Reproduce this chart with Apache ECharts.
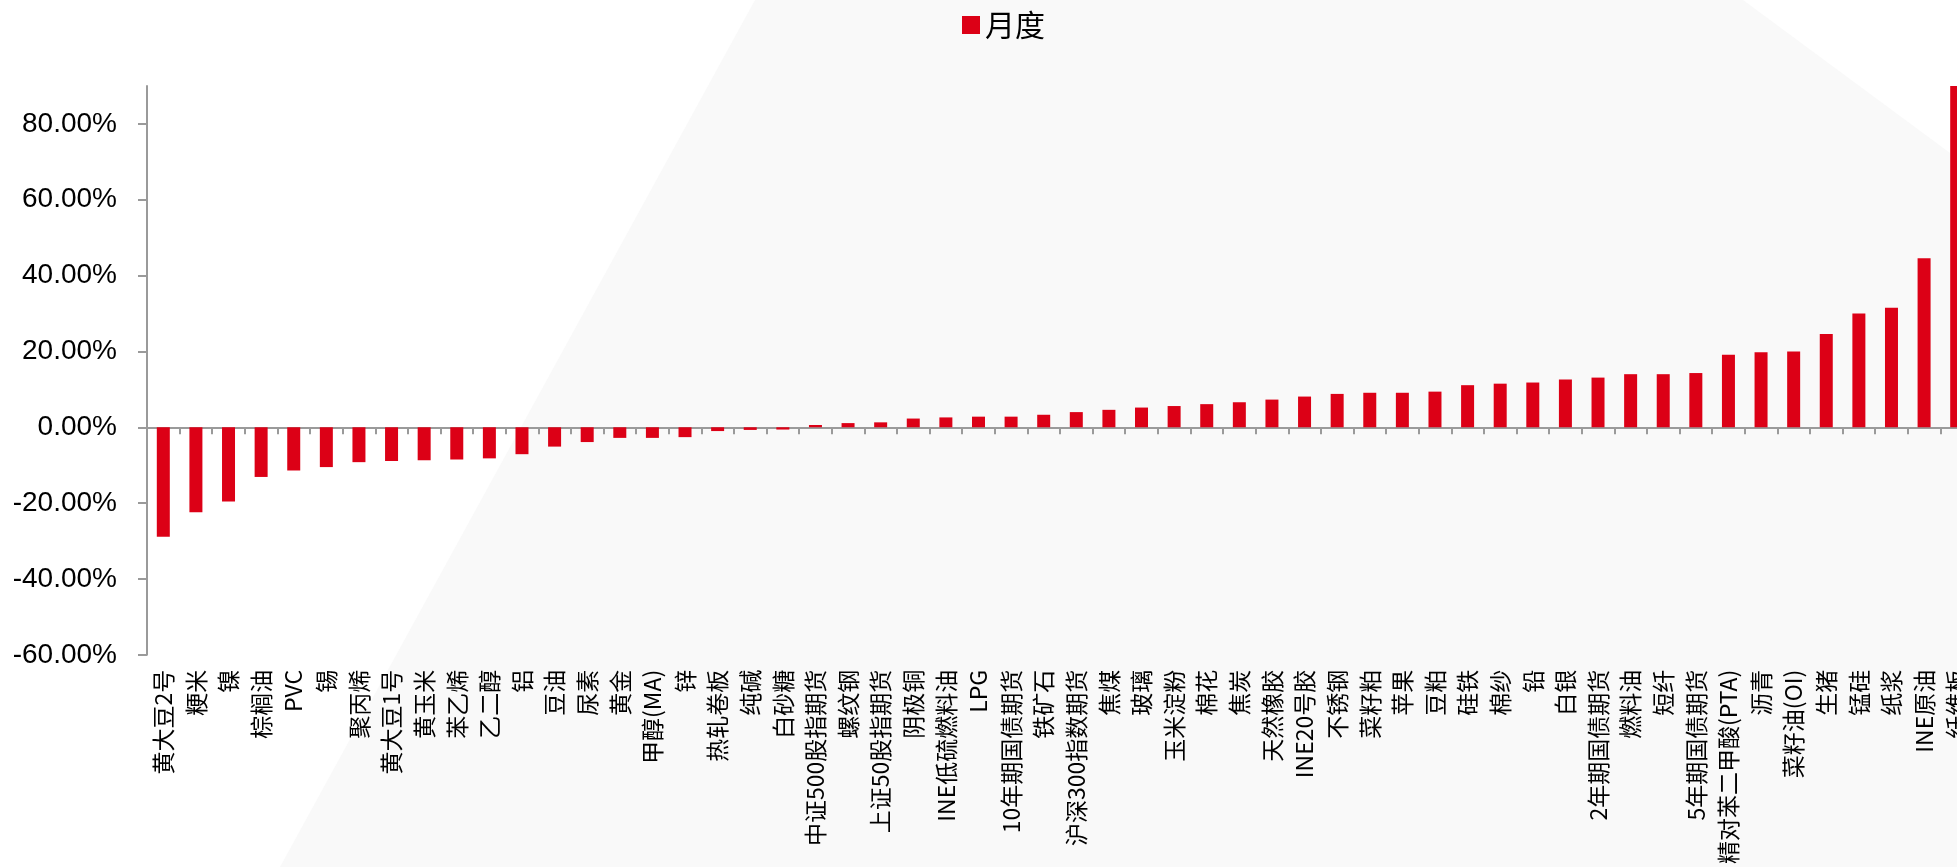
<!DOCTYPE html>
<html>
<head>
<meta charset="utf-8">
<script src="https://cdn.jsdelivr.net/npm/echarts@6/dist/echarts.min.js"></script>
<style>
html,body{margin:0;padding:0;background:#ffffff;overflow:hidden;width:1957px;height:867px;}
#chart{width:1973px;height:867px;}
</style>
</head>
<body>
<div id="chart"></div>
<script>
const categories = ['黄大豆2号','粳米','镍','棕榈油','PVC','锡','聚丙烯','黄大豆1号','黄玉米','苯乙烯','乙二醇','铝','豆油','尿素','黄金','甲醇(MA)','锌','热轧卷板','纯碱','白砂糖','中证500股指期货','螺纹钢','上证50股指期货','阴极铜','INE低硫燃料油','LPG','10年期国债期货','铁矿石','沪深300指数期货','焦煤','玻璃','玉米淀粉','棉花','焦炭','天然橡胶','INE20号胶','不锈钢','菜籽粕','苹果','豆粕','硅铁','棉纱','铅','白银','2年期国债期货','燃料油','短纤','5年期国债期货','精对苯二甲酸(PTA)','沥青','菜籽油(OI)','生猪','锰硅','纸浆','INE原油','纤维板'];
const monthly = [-28.9,-22.4,-19.6,-13.1,-11.4,-10.5,-9.2,-8.9,-8.7,-8.5,-8.2,-7.1,-5.1,-3.9,-2.8,-2.8,-2.6,-1.0,-0.7,-0.6,0.6,1.1,1.3,2.3,2.6,2.8,2.8,3.3,4.0,4.6,5.2,5.6,6.1,6.6,7.3,8.1,8.8,9.1,9.1,9.4,11.1,11.5,11.8,12.6,13.1,14.0,14.0,14.3,19.1,19.8,20.0,24.6,30.0,31.5,44.6,98.0];
const seriesName = '月度';
const yTicks = [-60,-40,-20,0,20,40,60,80];

const chart = echarts.init(document.getElementById('chart'), null, {renderer:'canvas'});
const axisColor = '#9a9a9a';
chart.setOption({
  animation: false,
  backgroundColor: '#ffffff',
  graphic: [{
    type: 'polygon',
    silent: true,
    z: -10,
    shape: { points: [[755,0],[1743,0],[1973,170],[1973,867],[280,867]] },
    style: { fill: '#f9f9f9' }
  }],
  legend: {
    data: [seriesName],
    left: 957,
    top: 5,
    icon: 'rect',
    itemWidth: 18,
    itemHeight: 18,
    itemGap: 8,
    textStyle: { fontSize: 30, color: '#000', fontFamily: '"Noto Sans CJK SC"' }
  },
  grid: { left: 147, right: 0, top: 86, bottom: 208, containLabel: false },
  xAxis: [{
    type: 'category',
    data: categories,
    position: 'top',
    axisLine: { onZero: true, lineStyle: { color: axisColor, width: 2 } },
    axisTick: { show: true, inside: true, length: 7, interval: 0, lineStyle: { color: axisColor, width: 2 } },
    axisLabel: { show: false },
    splitLine: { show: false }
  }, {
    type: 'category',
    data: categories,
    position: 'bottom',
    axisLine: { show: false, onZero: false },
    axisTick: { show: false },
    axisLabel: {
      show: true, interval: 0, rotate: 90, margin: 15,
      fontSize: 23, color: '#000', fontFamily: '"Noto Sans CJK SC"'
    },
    splitLine: { show: false }
  }],
  yAxis: {
    type: 'value',
    min: -60,
    max: 90,
    interval: 20,
    axisLine: { show: true, lineStyle: { color: axisColor, width: 2 } },
    axisTick: { show: true, length: 9, customValues: yTicks, lineStyle: { color: axisColor, width: 2 } },
    axisLabel: {
      customValues: yTicks,
      margin: 30,
      fontSize: 28,
      color: '#000',
      fontFamily: '"Liberation Sans", Arial, sans-serif',
      formatter: v => v.toFixed(2) + '%'
    },
    splitLine: { show: false }
  },
  series: [{
    name: seriesName,
    type: 'bar',
    xAxisIndex: 0,
    data: monthly,
    barWidth: 13,
    clip: true,
    itemStyle: { color: '#dc0016' }
  }]
});
</script>
</body>
</html>
